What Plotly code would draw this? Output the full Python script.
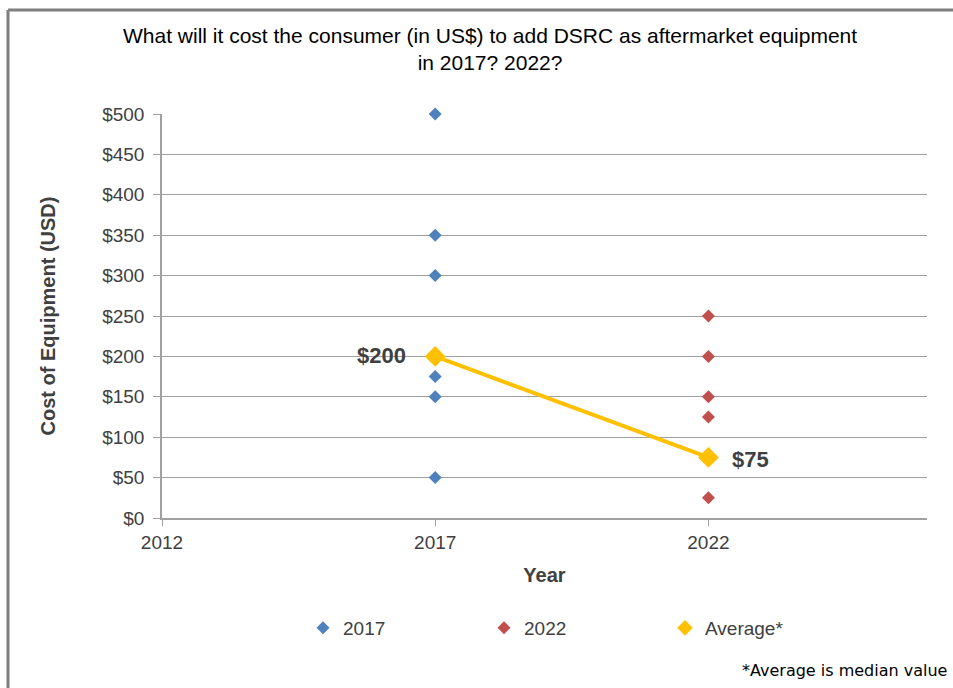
import plotly.graph_objects as go

years_2017 = [2017, 2017, 2017, 2017, 2017, 2017]
cost_2017 = [500, 350, 300, 175, 150, 50]
years_2022 = [2022, 2022, 2022, 2022, 2022]
cost_2022 = [250, 200, 150, 125, 25]
avg_years = [2017, 2022]
avg_cost = [200, 75]
avg_labels = ["$200", "$75"]
y_ticks = [0, 50, 100, 150, 200, 250, 300, 350, 400, 450, 500]
y_tick_text = ["$" + str(v) for v in y_ticks]
x_ticks = [2012, 2017, 2022]

W, H = 953, 688
L, R, T, B = 162, 26, 114, 170
PW, PH = W - L - R, H - T - B


def px_x(px):
    return (px - L) / PW


def px_y(py):
    return (H - B - py) / PH


FONT = "Liberation Sans, Arial, sans-serif"
TXT = "#404040"

fig = go.Figure()
fig.add_trace(go.Scatter(x=years_2017, y=cost_2017, mode="markers", name="2017", cliponaxis=False,
                         marker=dict(symbol="diamond", size=10, color="#4F81BD")))
fig.add_trace(go.Scatter(x=years_2022, y=cost_2022, mode="markers", name="2022", cliponaxis=False,
                         marker=dict(symbol="diamond", size=10, color="#C0504D")))
fig.add_trace(go.Scatter(x=avg_years, y=avg_cost, mode="lines+markers", name="Average*",
                         showlegend=False, cliponaxis=False, line=dict(color="#FFC000", width=4),
                         marker=dict(symbol="diamond", size=16, color="#FFC000")))
# legend entry for the average series (marker only, as in the reference)
fig.add_trace(go.Scatter(x=[None], y=[None], mode="markers", name="Average*",
                         marker=dict(symbol="diamond", size=12, color="#FFC000")))

# value labels
fig.add_annotation(x=avg_years[0], y=avg_cost[0], text="<b>" + avg_labels[0] + "</b>",
                   showarrow=False, xanchor="right", xshift=-27, yshift=1,
                   font=dict(family=FONT, size=22, color=TXT))
fig.add_annotation(x=avg_years[1], y=avg_cost[1], text="<b>" + avg_labels[1] + "</b>",
                   showarrow=False, xanchor="left", xshift=22, yshift=-2,
                   font=dict(family=FONT, size=22, color=TXT))

# title
fig.add_annotation(xref="paper", yref="paper", x=px_x(490), y=px_y(49),
                   text="What will it cost the consumer (in US$) to add DSRC as aftermarket equipment<br>in 2017? 2022?",
                   showarrow=False, xanchor="center", yanchor="middle", align="center",
                   font=dict(family=FONT, size=21, color="#000000"))

# footnote
fig.add_annotation(xref="paper", yref="paper", x=px_x(949), y=px_y(670),
                   text="*Average is median value", showarrow=False, xanchor="right", yanchor="middle",
                   font=dict(family="DejaVu Sans, Verdana, sans-serif", size=16, color="#000000"))

# frame lines
fig.add_shape(type="line", xref="paper", yref="paper",
              x0=px_x(8), x1=px_x(W), y0=px_y(10), y1=px_y(10),
              line=dict(color="#7F7F7F", width=3))
fig.add_shape(type="line", xref="paper", yref="paper",
              x0=px_x(8), x1=px_x(8), y0=px_y(10), y1=px_y(H),
              line=dict(color="#7F7F7F", width=3))

fig.update_layout(
    width=W, height=H,
    margin=dict(l=L, r=R, t=T, b=B),
    paper_bgcolor="white", plot_bgcolor="white",
    font=dict(family=FONT, size=16, color=TXT),
    showlegend=True,
    legend=dict(orientation="h", x=px_x(303), y=px_y(628),
                xanchor="left", yanchor="middle", entrywidth=136, entrywidthmode="pixels",
                font=dict(family=FONT, size=19, color=TXT), itemsizing="trace",
                bgcolor="rgba(0,0,0,0)"),
    xaxis=dict(range=[2012, 2026], tickvals=x_ticks, ticktext=[str(v) for v in x_ticks],
               showgrid=False, zeroline=False, showline=True, linecolor="#A0A0A0", linewidth=1.5,
               ticks="outside", ticklen=6, tickcolor="#A0A0A0",
               tickfont=dict(family=FONT, size=19, color=TXT),
               title=dict(text="<b>Year</b>", standoff=16, font=dict(family=FONT, size=20, color=TXT))),
    yaxis=dict(range=[0, 500], tickvals=y_ticks, ticktext=y_tick_text,
               showgrid=True, gridcolor="#A0A0A0", gridwidth=1.2, zeroline=False,
               showline=True, linecolor="#A0A0A0", linewidth=1.5,
               ticks="outside", ticklen=7, tickcolor="#A0A0A0", ticklabelstandoff=5,
               tickfont=dict(family=FONT, size=19, color=TXT),
               title=dict(text="<b>Cost of Equipment (USD)</b>", standoff=41,
                          font=dict(family=FONT, size=20, color=TXT))),
)

fig.write_html("out.html", config={"displayModeBar": False},
               post_script="document.body.style.margin='0px';")
